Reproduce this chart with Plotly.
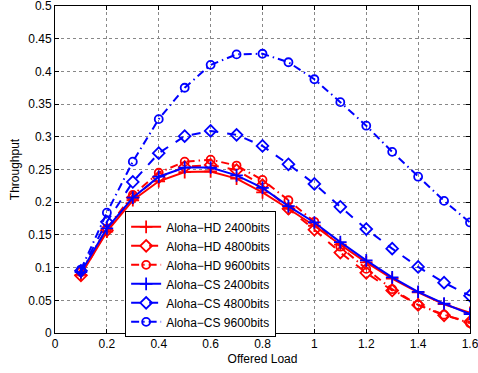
import plotly.graph_objects as go

offered_load = [0.1, 0.2, 0.3, 0.4, 0.5, 0.6, 0.7, 0.8, 0.9, 1.0, 1.1, 1.2, 1.3, 1.4, 1.5, 1.6]

hd_2400 = [0.089, 0.155, 0.203, 0.232, 0.246, 0.247, 0.236, 0.215, 0.190, 0.164, 0.135, 0.108, 0.083, 0.062, 0.044, 0.031]
hd_4800 = [0.088, 0.157, 0.207, 0.238, 0.254, 0.257, 0.249, 0.226, 0.190, 0.158, 0.123, 0.092, 0.065, 0.043, 0.027, 0.017]
hd_9600 = [0.093, 0.160, 0.211, 0.245, 0.262, 0.265, 0.256, 0.234, 0.203, 0.170, 0.132, 0.098, 0.067, 0.043, 0.028, 0.015]
cs_2400 = [0.093, 0.160, 0.207, 0.239, 0.253, 0.253, 0.241, 0.222, 0.194, 0.169, 0.139, 0.111, 0.085, 0.063, 0.045, 0.029]
cs_4800 = [0.095, 0.170, 0.231, 0.275, 0.301, 0.309, 0.303, 0.286, 0.258, 0.228, 0.193, 0.159, 0.129, 0.101, 0.077, 0.057]
cs_9600 = [0.097, 0.184, 0.262, 0.327, 0.375, 0.410, 0.426, 0.427, 0.414, 0.388, 0.353, 0.317, 0.277, 0.239, 0.202, 0.169]

x_ticks = [0, 0.2, 0.4, 0.6, 0.8, 1.0, 1.2, 1.4, 1.6]
x_tick_labels = ["0", "0.2", "0.4", "0.6", "0.8", "1", "1.2", "1.4", "1.6"]
y_ticks = [0, 0.05, 0.1, 0.15, 0.2, 0.25, 0.3, 0.35, 0.4, 0.45, 0.5]
y_tick_labels = ["0", "0.05", "0.1", "0.15", "0.2", "0.25", "0.3", "0.35", "0.4", "0.45", "0.5"]

RED = "#ff0000"
BLUE = "#0000ff"
DASHDOT = "8px,4px,1.5px,4px"

series = [
    ("Aloha\u2212HD 2400bits", hd_2400, RED, "solid", "cross-thin-open", 9),
    ("Aloha\u2212HD 4800bits", hd_4800, RED, "dash", "diamond-open", 9),
    ("Aloha\u2212HD 9600bits", hd_9600, RED, DASHDOT, "circle-open", 8),
    ("Aloha\u2212CS 2400bits", cs_2400, BLUE, "solid", "cross-thin-open", 9),
    ("Aloha\u2212CS 4800bits", cs_4800, BLUE, "dash", "diamond-open", 9),
    ("Aloha\u2212CS 9600bits", cs_9600, BLUE, DASHDOT, "circle-open", 8),
]

fig = go.Figure()
for name, ys, color, dash, sym, size in series:
    fig.add_trace(go.Scatter(
        x=offered_load, y=ys, name=name, mode="lines+markers",
        line=dict(color=color, width=2, dash=dash),
        marker=dict(symbol=sym, size=size, color=color, line=dict(width=1.8, color=color)),
    ))

font_family = "Liberation Sans, Arial, Helvetica, sans-serif"

fig.update_layout(
    width=478, height=373,
    margin=dict(l=55, r=8, t=6, b=40, autoexpand=False),
    paper_bgcolor="white", plot_bgcolor="white",
    font=dict(family=font_family, size=12, color="black"),
    showlegend=True,
    legend=dict(
        x=0.169, y=0.372, xanchor="left", yanchor="top",
        bgcolor="white", bordercolor="black", borderwidth=1,
        font=dict(size=12, family=font_family),
        tracegroupgap=0, itemwidth=30,
    ),
    xaxis=dict(
        range=[0, 1.6], tickvals=x_ticks, ticktext=x_tick_labels,
        showgrid=True, gridcolor="#888888", griddash="dot", gridwidth=1,
        zeroline=False, showline=True, linecolor="black", linewidth=1, mirror="ticks",
        ticks="inside", ticklen=4, tickcolor="black", ticklabeloverflow="allow",
        automargin=False,
        title=dict(text="Offered Load", font=dict(size=12), standoff=4),
        tickfont=dict(size=12),
    ),
    yaxis=dict(
        range=[0, 0.5], tickvals=y_ticks, ticktext=y_tick_labels,
        showgrid=True, gridcolor="#888888", griddash="dot", gridwidth=1,
        zeroline=False, showline=True, linecolor="black", linewidth=1, mirror="ticks",
        ticks="inside", ticklen=4, tickcolor="black", ticklabeloverflow="allow",
        automargin=False,
        title=dict(text="Throughput", font=dict(size=12), standoff=6),
        tickfont=dict(size=12),
    ),
)

fig.write_html("out.html", config={"displayModeBar": False},
               post_script="document.body.style.margin='0';")
